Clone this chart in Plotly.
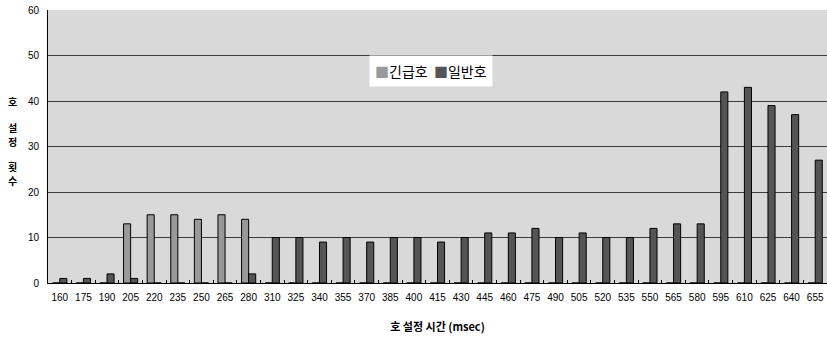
import plotly.graph_objects as go

# Call setup time (msec) categories
setup_time = ["160", "175", "190", "205", "220", "235", "250", "265", "280",
              "310", "325", "340", "355", "370", "385", "400", "415", "430",
              "445", "460", "475", "490", "505", "520", "535", "550", "565",
              "580", "595", "610", "625", "640", "655"]

# Emergency calls (긴급호)
emergency = [0, 0, 0, 13, 15, 15, 14, 15, 14,
             0, 0, 0, 0, 0, 0, 0, 0, 0,
             0, 0, 0, 0, 0, 0, 0, 0, 0,
             0, 0, 0, 0, 0, 0]

# Normal calls (일반호)
normal = [1, 1, 2, 1, 0, 0, 0, 0, 2,
          10, 10, 9, 10, 9, 10, 10, 9, 10,
          11, 11, 12, 10, 11, 10, 10, 12, 13,
          13, 42, 43, 39, 37, 27]

y_ticks = [0, 10, 20, 30, 40, 50, 60]

series_names = ["긴급호", "일반호"]
series_colors = ["#999999", "#555555"]

font_kr = "Noto Sans CJK KR"
plot_w, plot_h = 779, 273

fig = go.Figure()
for name, vals, col in zip(series_names, [emergency, normal], series_colors):
    fig.add_trace(go.Bar(
        x=setup_time, y=vals, name=name,
        marker=dict(color=col, line=dict(color="#000000", width=1)),
    ))

fig.update_layout(
    width=827, height=340,
    margin=dict(l=48, r=0, t=10, b=57),
    paper_bgcolor="#ffffff",
    plot_bgcolor="#d9d9d9",
    barmode="group",
    bargap=0.4,
    bargroupgap=0.0,
    font=dict(family="Liberation Sans, Arial, sans-serif", size=10, color="#000000"),
    showlegend=False,
)

fig.update_xaxes(
    type="category",
    showline=True, linecolor="#000000", linewidth=1,
    ticks="inside", ticklen=3, tickcolor="#000000",
    tickson="boundaries",
    showgrid=False,
    tickfont=dict(size=10),
    tickangle=0,
    ticklabelstandoff=5,
    title=dict(text="<b>호 설정 시간 (msec)</b>",
               font=dict(family=font_kr, size=11), standoff=21),
)

fig.update_yaxes(
    range=[0, 60],
    tickvals=y_ticks,
    showline=True, linecolor="#000000", linewidth=1,
    showgrid=True, gridcolor="#3c3c3c", gridwidth=1,
    zeroline=False,
    ticks="", tickfont=dict(size=10),
    ticklabelstandoff=6,
)

# Legend box drawn as a compact text key inside the plot
legend_text = "  ".join(
    f"<span style='color:{c}'>■</span>{n}" for n, c in zip(series_names, series_colors)
)
fig.add_annotation(
    text=legend_text, xref="paper", yref="paper",
    x=(369 - 48) / plot_w, y=(283 - 55) / plot_h,
    xanchor="left", yanchor="top", showarrow=False,
    bgcolor="#ffffff", borderpad=5,
    font=dict(family=font_kr, size=14, color="#000000"),
)

# Vertical y-axis title, one syllable per line
for ch, ypos in [("호", 101), ("설", 127), ("정", 141), ("횟", 166), ("수", 180)]:
    fig.add_annotation(
        text=f"<b>{ch}</b>", xref="paper", yref="paper",
        x=(12 - 48) / plot_w, y=(283 - ypos) / plot_h,
        xanchor="center", yanchor="middle", showarrow=False,
        font=dict(family=font_kr, size=10, color="#000000"),
        borderpad=0,
    )

fig.write_html("out.html")
